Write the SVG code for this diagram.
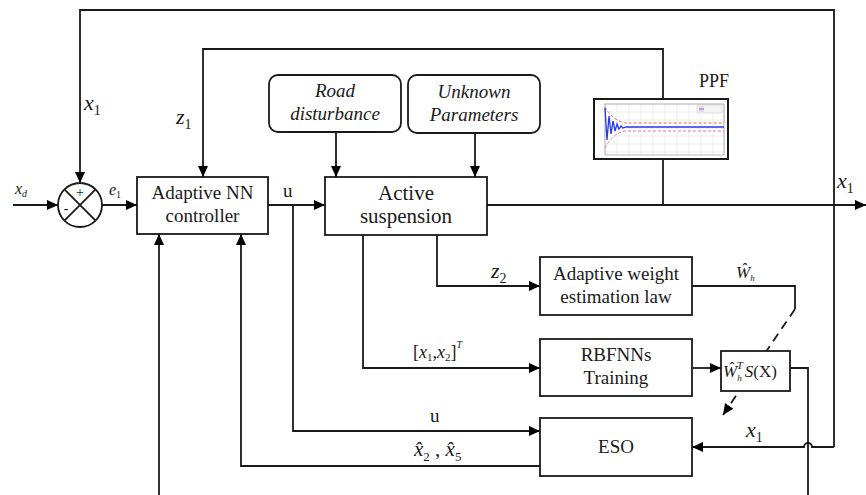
<svg xmlns="http://www.w3.org/2000/svg" width="866" height="495" viewBox="0 0 866 495">
<style>
.box{fill:#fff;stroke:#1a1a1a;stroke-width:1.8}
.rbox{fill:#fff;stroke:#1a1a1a;stroke-width:1.8}
.ln{fill:none;stroke:#1a1a1a;stroke-width:1.8}
.arr{marker-end:url(#ah)}
.t{fill:#1a1a1a;text-anchor:middle}
.m{fill:#1a1a1a;font-style:italic}
.n{fill:#1a1a1a}
</style>
<defs>
<marker id="ah" markerUnits="userSpaceOnUse" markerWidth="12" markerHeight="10" refX="11" refY="5" orient="auto">
<path d="M0,0 L11,5 L0,10 z" fill="#000"/>
</marker>
</defs>
<rect width="866" height="495" fill="#fff"/>

<g id="connectors">
<path class="ln arr" d="M834,447 V10 H80 V183"/>
<path class="ln arr" d="M663,99 V49 H203 V177"/>
<path class="ln" d="M663,159 V205"/>
<path class="ln arr" d="M13,205 H58"/>
<path class="ln arr" d="M102,205 H137"/>
<path class="ln arr" d="M268,205 H325"/>
<path class="ln arr" d="M293,205 V431 H540"/>
<path class="ln arr" d="M336,132 V177"/>
<path class="ln arr" d="M475,133 V177"/>
<path class="ln arr" d="M487,205 H866"/>
<path class="ln arr" d="M437,235 V286 H540"/>
<path class="ln arr" d="M363,235 V368 H540"/>
<path class="ln arr" d="M692,368 H721"/>
<path class="ln" d="M692,286 H795 V309"/>
<path class="ln arr" d="M795,309 L723,415" stroke-dasharray="9,6"/>
<path class="ln arr" d="M834,447 H812 A4,4 0 0 0 804,447 H692"/>
<path class="ln" d="M790,368 H808 V495"/>
<path class="ln arr" d="M540,466 H241 V234"/>
<path class="ln arr" d="M159,495 V234"/>
</g>

<g font-family="'Liberation Serif', 'Times New Roman', 'DejaVu Serif', serif">
<g id="sum">
<circle cx="80" cy="205" r="22" fill="#fff" stroke="#1a1a1a" stroke-width="1.8"/>
<path class="ln" d="M64.4,189.4 L95.6,220.6 M95.6,189.4 L64.4,220.6"/>
<text class="n" x="80" y="197" font-size="14" text-anchor="middle">+</text>
<text class="n" x="66" y="213" font-size="14" text-anchor="middle">-</text>
</g>

<g id="controller">
<rect class="box" x="137" y="177" width="131" height="57"/>
<text class="t" x="202.5" y="199" font-size="19">Adaptive NN</text>
<text class="t" x="202.5" y="222" font-size="19">controller</text>
</g>

<g id="suspension">
<rect class="box" x="325" y="177" width="162" height="58"/>
<text class="t" x="406" y="200" font-size="21">Active</text>
<text class="t" x="406" y="223" font-size="21">suspension</text>
</g>

<g id="road">
<rect class="rbox" x="269" y="75" width="132" height="57" rx="9"/>
<text class="t" x="335" y="97" font-size="19" font-style="italic">Road</text>
<text class="t" x="335" y="120" font-size="19" font-style="italic">disturbance</text>
</g>

<g id="unknown">
<rect class="rbox" x="408" y="75" width="132" height="58" rx="9"/>
<text class="t" x="474" y="98" font-size="19" font-style="italic">Unknown</text>
<text class="t" x="474" y="121" font-size="19" font-style="italic">Parameters</text>
</g>

<g id="ppf">
<text class="t" x="714" y="87" font-size="18">PPF</text>
<rect x="594" y="99" width="134" height="60" fill="#fff" stroke="#1a1a1a" stroke-width="2"/>
<g stroke="#e4e4e4" stroke-width="0.6">
<path d="M605,104 V155 M617,104 V155 M629,104 V155 M641,104 V155 M653,104 V155 M665,104 V155 M677,104 V155 M689,104 V155 M701,104 V155 M713,104 V155 M724,104 V155"/>
<path d="M605,104 H724 M605,112 H724 M605,120 H724 M605,128 H724 M605,136 H724 M605,144 H724 M605,152 H724"/>
</g>
<rect x="605" y="104" width="119" height="51" fill="none" stroke="#888" stroke-width="0.6"/>
<path d="M605,107 Q612,120 625,123 H724" fill="none" stroke="#ee6666" stroke-width="1" stroke-dasharray="3,2"/>
<path d="M605,148 Q612,134 625,131 H724" fill="none" stroke="#e070e0" stroke-width="1" stroke-dasharray="3,2"/>
<path d="M605,108 L607,140 L609,116 L611,134 L613,121 L615,131 L617,124 L619,129 L621,126 L623,128 L626,127 H724" fill="none" stroke="#2a3ae8" stroke-width="1.3"/>
<rect x="697" y="105" width="25" height="8" fill="#f4f4f4" stroke="#bbb" stroke-width="0.4"/>
<path d="M699,107 h5 M699,111 h5" stroke="#ee9999" stroke-width="0.6"/>
<path d="M699,109 h5" stroke="#2a3ae8" stroke-width="0.8"/>
</g>

<g id="adaptive-weight">
<rect class="box" x="540" y="257" width="152" height="58"/>
<text class="t" x="616" y="280" font-size="19">Adaptive weight</text>
<text class="t" x="616" y="303" font-size="19">estimation law</text>
</g>

<g id="rbfnn">
<rect class="box" x="540" y="339" width="152" height="57"/>
<text class="t" x="616" y="361" font-size="19">RBFNNs</text>
<text class="t" x="616" y="384" font-size="19">Training</text>
</g>

<g id="eso">
<rect class="box" x="540" y="418" width="152" height="58"/>
<text class="t" x="616" y="453" font-size="19">ESO</text>
</g>

<g id="wsx">
<rect class="box" x="721" y="351" width="69" height="40"/>
<text class="n" x="723" y="377" font-size="17"><tspan font-style="italic">Ŵ</tspan><tspan font-style="italic" font-size="9" dy="4">h</tspan><tspan font-style="italic" font-size="11" dx="-5" dy="-12">T</tspan><tspan font-style="italic" dx="2" dy="8">S</tspan><tspan>(X)</tspan></text>
</g>

<g id="labels">
<text class="m" x="84" y="110" font-size="22">x<tspan font-style="normal" font-size="14" dy="5">1</tspan></text>
<text class="m" x="176" y="124" font-size="22">z<tspan font-style="normal" font-size="14" dy="5">1</tspan></text>
<text class="m" x="15" y="194" font-size="16">x<tspan font-size="10" dy="3">d</tspan></text>
<text class="m" x="109" y="195" font-size="16">e<tspan font-style="normal" font-size="10" dy="3">1</tspan></text>
<text class="n" x="283" y="197" font-size="19">u</text>
<text class="m" x="837" y="188" font-size="22">x<tspan font-style="normal" font-size="14" dy="5">1</tspan></text>
<text class="m" x="491" y="278" font-size="22">z<tspan font-style="normal" font-size="14" dy="5">2</tspan></text>
<text class="m" x="736" y="278" font-size="17">Ŵ<tspan font-size="9" dy="3">h</tspan></text>
<text class="n" x="413" y="358" font-size="18">[<tspan font-style="italic">x</tspan><tspan font-size="11" dy="3">1</tspan><tspan dy="-3">,</tspan><tspan font-style="italic">x</tspan><tspan font-size="11" dy="3">2</tspan><tspan dy="-3">]</tspan><tspan font-style="italic" font-size="10" dy="-10">T</tspan></text>
<text class="n" x="430" y="422" font-size="19">u</text>
<text class="m" x="746" y="437" font-size="22">x<tspan font-style="normal" font-size="14" dy="5">1</tspan></text>
<text class="m" x="414" y="456" font-size="21">x̂<tspan font-style="normal" font-size="13" dy="5">2</tspan><tspan font-style="normal" dy="-5"> , </tspan>x̂<tspan font-style="normal" font-size="13" dy="5">5</tspan></text>
</g>
</g>
</svg>
